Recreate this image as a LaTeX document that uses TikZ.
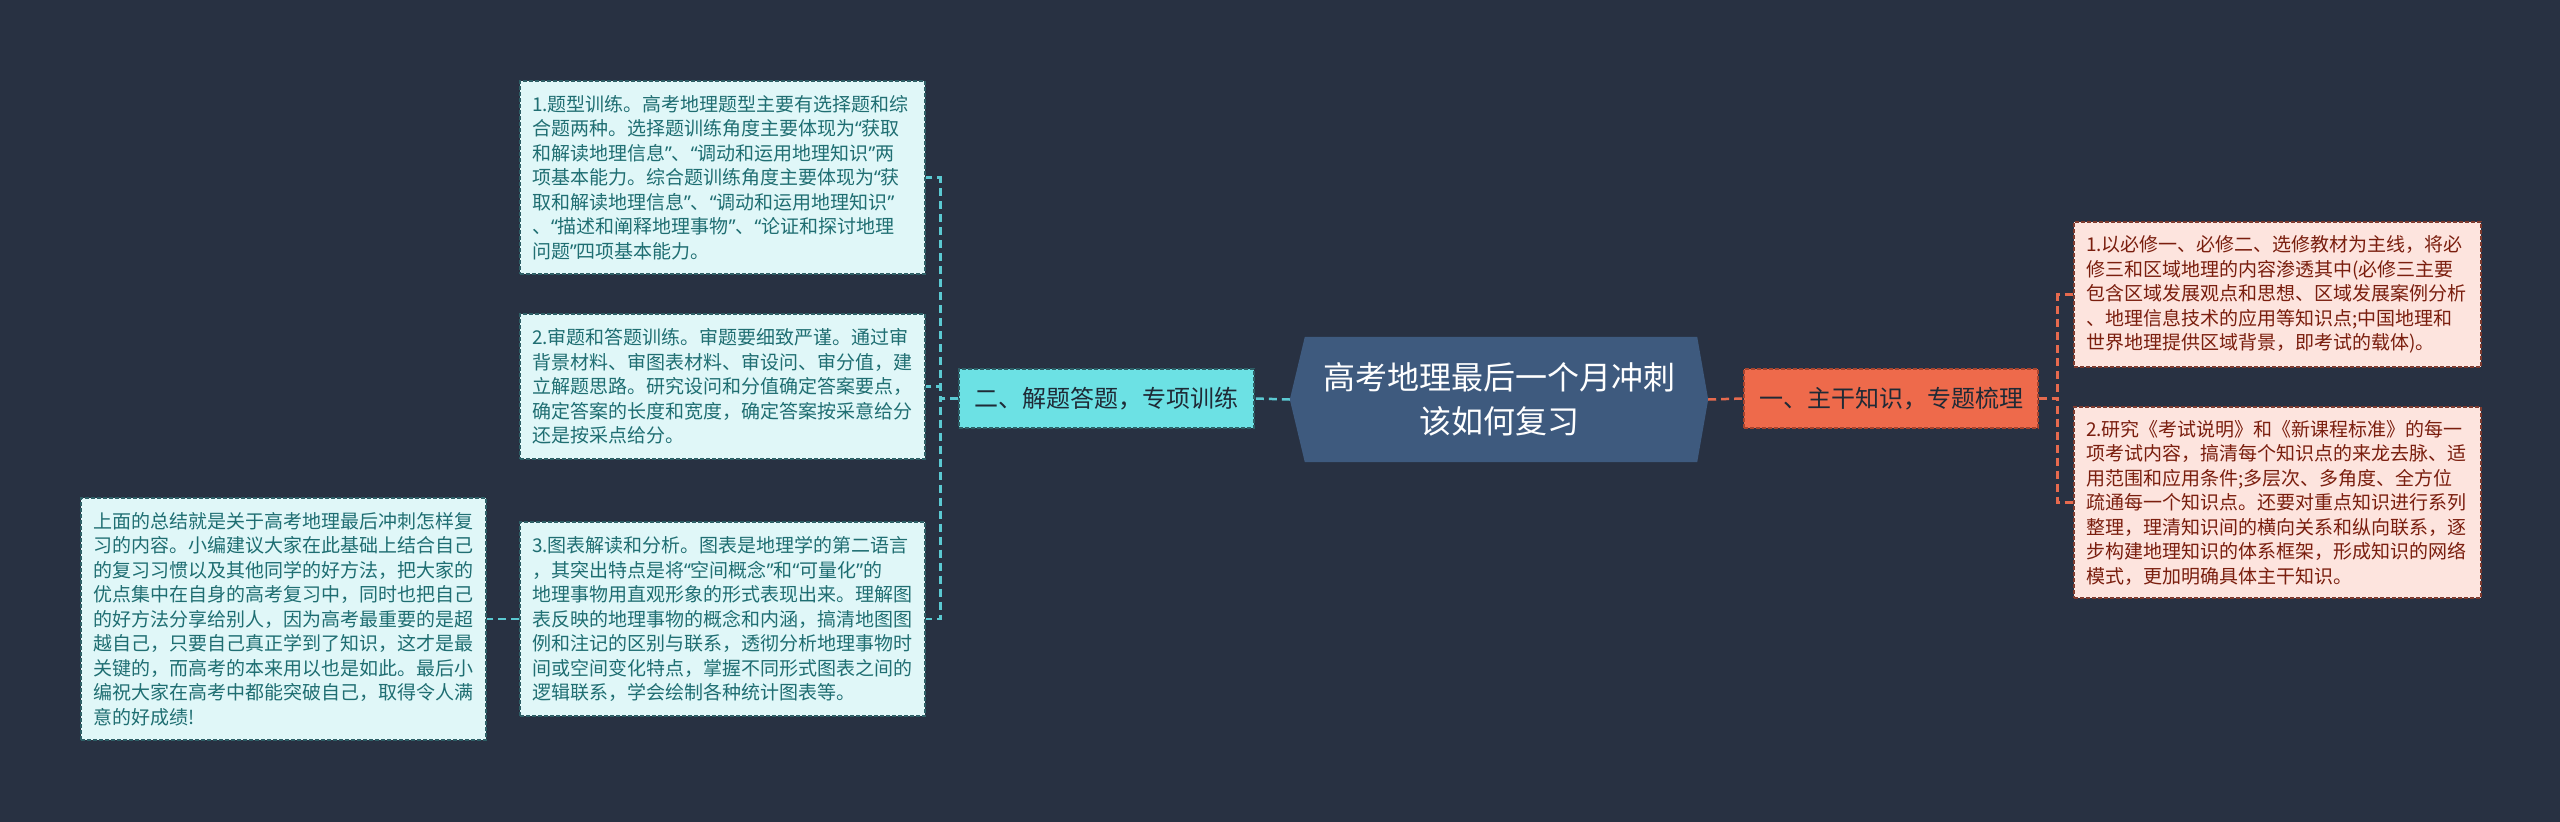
\documentclass[tikz,border=0pt]{standalone}
\usepackage{fontspec}
\setmainfont{Noto Sans CJK SC}
\newfontfamily\qfont{Noto Sans}
\newcommand\qo{{\qfont “}}
\newcommand\qc{{\qfont ”}}
\usetikzlibrary{backgrounds}
\definecolor{bg}{HTML}{283142}
\definecolor{hexfill}{HTML}{3E5A7E}
\definecolor{cyanfill}{HTML}{6CE1E4}
\definecolor{cyanline}{HTML}{5BC9D2}
\definecolor{cyanleaf}{HTML}{E0F7F8}
\definecolor{cyantext}{HTML}{1F6E72}
\definecolor{cyanborder}{HTML}{2E5F66}
\definecolor{orangefill}{HTML}{EE6A4B}
\definecolor{orangeline}{HTML}{E66A4E}
\definecolor{orangeborder}{HTML}{A8442E}
\definecolor{pinkleaf}{HTML}{FDE4DE}
\definecolor{pinktext}{HTML}{7A1E0E}
\definecolor{pinkborder}{HTML}{7E3A2E}
\definecolor{branchtext}{HTML}{1F2A36}
\begin{document}
\begin{tikzpicture}[x=1pt,y=-1pt,
  leaf/.style={draw, dash pattern=on 4pt off 2pt, line width=1.2pt, anchor=center,
    inner xsep=12pt, inner ysep=0pt, align=left,
    font=\fontsize{19}{24.5}\selectfont},
  cyanleafbox/.style={leaf, fill=cyanleaf, draw=cyanborder, text=cyantext, text width=381pt, minimum width=405pt},
  pinkleafbox/.style={leaf, fill=pinkleaf, draw=pinkborder, text=pinktext, text width=383pt, minimum width=407pt},
  branch/.style={draw, dash pattern=on 4pt off 2pt, line width=1.2pt, anchor=center,
    minimum height=59pt, inner sep=0pt, text=branchtext, font=\fontsize{24}{28}\selectfont},
  conn/.style={line width=2.5pt, dash pattern=on 8pt off 5pt},
]
\useasboundingbox (0,0) rectangle (2560,822);

% center
\node[anchor=center, minimum width=418pt, minimum height=125pt, inner sep=0pt,
  text=white, align=center, font=\fontsize{32}{44}\selectfont] (c) at (1499,399.5)
  {高考地理最后一个月冲刺\\该如何复习};

% branches
\node[branch, fill=cyanfill, draw=cyanborder, minimum width=295pt] (lb) at (1106.5,398.5) {二、解题答题，专项训练};
\node[branch, fill=orangefill, draw=orangeborder, minimum width=294pt] (rb) at (1891,398.5) {一、主干知识，专题梳理};

% left leaves
\node[cyanleafbox, minimum height=193pt] (l1) at (722.5,177.5) {1.题型训练。高考地理题型主要有选择题和综\\合题两种。选择题训练角度主要体现为\qo 获取\\和解读地理信息\qc 、\qo 调动和运用地理知识\qc 两\\项基本能力。综合题训练角度主要体现为\qo 获\\取和解读地理信息\qc 、\qo 调动和运用地理知识\qc\\、\qo 描述和阐释地理事物\qc 、\qo 论证和探讨地理\\问题\qc 四项基本能力。};
\node[cyanleafbox, minimum height=145pt] (l2) at (722.5,386.5) {2.审题和答题训练。审题要细致严谨。通过审\\背景材料、审图表材料、审设问、审分值，建\\立解题思路。研究设问和分值确定答案要点，\\确定答案的长度和宽度，确定答案按采意给分\\还是按采点给分。};
\node[cyanleafbox, minimum height=194pt] (l3) at (722.5,619) {3.图表解读和分析。图表是地理学的第二语言\\，其突出特点是将\qo 空间概念\qc 和\qo 可量化\qc 的\\地理事物用直观形象的形式表现出来。理解图\\表反映的地理事物的概念和内涵，搞清地图图\\例和注记的区别与联系，透彻分析地理事物时\\间或空间变化特点，掌握不同形式图表之间的\\逻辑联系，学会绘制各种统计图表等。};
\node[cyanleafbox, minimum height=242pt] (l4) at (283.5,619) {上面的总结就是关于高考地理最后冲刺怎样复\\习的内容。小编建议大家在此基础上结合自己\\的复习习惯以及其他同学的好方法，把大家的\\优点集中在自身的高考复习中，同时也把自己\\的好方法分享给别人，因为高考最重要的是超\\越自己，只要自己真正学到了知识，这才是最\\关键的，而高考的本来用以也是如此。最后小\\编祝大家在高考中都能突破自己，取得令人满\\意的好成绩!};

% right leaves
\node[pinkleafbox, minimum height=145pt] (r1) at (2277.5,294.5) {1.以必修一、必修二、选修教材为主线，将必\\修三和区域地理的内容渗透其中(必修三主要\\包含区域发展观点和思想、区域发展案例分析\\、地理信息技术的应用等知识点;中国地理和\\世界地理提供区域背景，即考试的载体)。};
\node[pinkleafbox, minimum height=191pt] (r2) at (2277.5,502.5) {2.研究《考试说明》和《新课程标准》的每一\\项考试内容，搞清每个知识点的来龙去脉、适\\用范围和应用条件;多层次、多角度、全方位\\疏通每一个知识点。还要对重点知识进行系列\\整理，理清知识间的横向关系和纵向联系，逐\\步构建地理知识的体系框架，形成知识的网络\\模式，更加明确具体主干知识。};

% connectors
\draw[conn, cyanline] (c.west) -- (lb.west -| lb.east);
\draw[conn, cyanline] (lb.west) -- ++(-18,0) |- (l1.east);
\draw[conn, cyanline] (lb.west) -- ++(-18,0) |- (l2.east);
\draw[conn, cyanline] (lb.west) -- ++(-18,0) |- (l3.east);
\draw[conn, cyanline] (l3.west) -- (l4.east);
\draw[conn, orangeline] (c.east) -- (rb.east -| rb.west);
\draw[conn, orangeline] (rb.east) -- ++(19,0) |- (r1.west);
\draw[conn, orangeline] (rb.east) -- ++(19,0) |- (r2.west);

\begin{scope}[on background layer]
\fill[bg] (0,0) rectangle (2560,822);
\fill[hexfill] (c.west) -- ([xshift=15pt]c.north west) -- ([xshift=-11pt]c.north east)
  -- (c.east) -- ([xshift=-11pt]c.south east) -- ([xshift=15pt]c.south west) -- cycle;
\end{scope}
\end{tikzpicture}
\end{document}
